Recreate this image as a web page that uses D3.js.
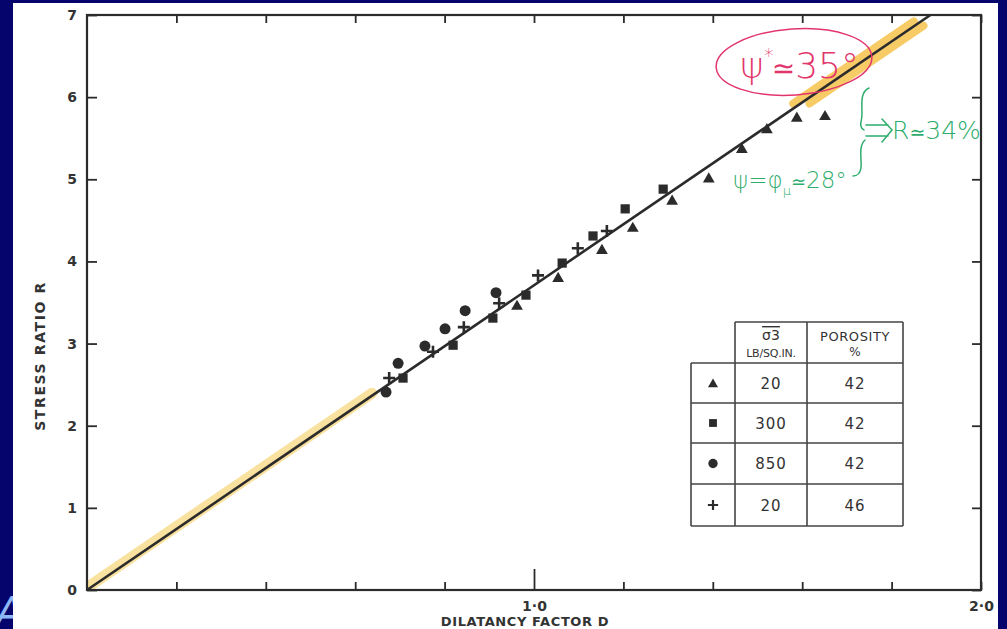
<!DOCTYPE html>
<html>
<head>
<meta charset="utf-8">
<script src="https://cdn.jsdelivr.net/npm/d3@7"></script>
<style>
  body { margin: 0; background: #04046c; overflow: hidden; }
  svg { display: block; }
</style>
</head>
<body>
<svg width="1007" height="629"></svg>
<script>
// ---- data (D = dilatancy factor, R = stress ratio)
const triangleD = [0.962, 1.054, 1.152, 1.221, 1.309, 1.391, 1.465, 1.521, 1.588, 1.651];
const triangleR = [3.47, 3.81, 4.15, 4.42, 4.75, 5.02, 5.38, 5.62, 5.76, 5.78];
const squareD = [0.707, 0.819, 0.908, 0.982, 1.063, 1.132, 1.204, 1.289];
const squareR = [2.58, 2.98, 3.31, 3.59, 3.98, 4.31, 4.64, 4.88];
const circleD = [0.669, 0.696, 0.756, 0.801, 0.846, 0.915];
const circleR = [2.41, 2.76, 2.97, 3.18, 3.40, 3.62];
const plusD = [0.676, 0.774, 0.843, 0.922, 1.009, 1.098, 1.163];
const plusR = [2.58, 2.90, 3.20, 3.49, 3.83, 4.16, 4.37];

const fitSlope = 3.71;          // R = 3.71 D
const xTicks = [0.2, 0.4, 0.6, 0.8, 1, 1.2, 1.4, 1.6, 1.8, 2];
const xLabels = {1: '1·0', 2: '2·0'};
const yTicks = [0, 1, 2, 3, 4, 5, 6, 7];

const legendSymbols = ['triangle', 'square', 'circle', 'plus'];
const legendSigma = ['20', '300', '850', '20'];
const legendPorosity = ['42', '42', '42', '46'];

// highlighted stretches of the line (D from, D to)
const highlightSpans = [[0.012, 0.64], [1.585, 1.855], [1.61, 1.865]];

const svg = d3.select('svg');
const ink = '#2b2b2b';

const x = d3.scaleLinear().domain([0, 2]).range([87, 981]);
const y = d3.scaleLinear().domain([0, 7]).range([590, 15]);

// slide text peeking out from under the scan
svg.append('text')
  .attr('x', -4).attr('y', 626)
  .attr('font-family', 'DejaVu Sans').attr('font-style', 'italic')
  .attr('font-size', 40).attr('fill', '#8db6f5')
  .text('A');

// the paper
svg.append('rect')
  .attr('x', 13).attr('y', 3).attr('width', 985).attr('height', 640)
  .attr('fill', '#ffffff');

// highlighter under the line
const hl = svg.append('g').attr('stroke-linecap', 'round').attr('fill', 'none');
const hlStyle = [
  {offset: -2, color: '#f8dc8e', width: 11, opacity: 0.85},
  {offset: -4, color: '#f6c24a', width: 8, opacity: 0.85},
  {offset: 5, color: '#f6c24a', width: 8, opacity: 0.85}
];
highlightSpans.forEach((s, i) => {
  const st = hlStyle[i];
  const x1 = x(s[0]), y1 = y(s[0] * fitSlope), x2 = x(s[1]), y2 = y(s[1] * fitSlope);
  const len = Math.hypot(x2 - x1, y2 - y1);
  const nx = (y2 - y1) / len, ny = -(x2 - x1) / len;   // perpendicular
  hl.append('line')
    .attr('x1', x1 - nx * st.offset).attr('y1', y1 - ny * st.offset)
    .attr('x2', x2 - nx * st.offset).attr('y2', y2 - ny * st.offset)
    .attr('stroke', st.color).attr('stroke-width', st.width).attr('opacity', st.opacity);
});

// axes
const fontAxis = 'DejaVu Sans';
const bottom = svg.append('g').attr('transform', 'translate(0,590)')
  .call(d3.axisBottom(x).tickValues(xTicks).tickSizeInner(-8).tickSizeOuter(0)
    .tickPadding(11).tickFormat(d => xLabels[d] || ''));
bottom.selectAll('.tick line').filter(d => d === 1).attr('y2', -21);

svg.append('g').attr('transform', 'translate(0,15)')
  .call(d3.axisTop(x).tickValues(xTicks).tickSizeInner(-8).tickSizeOuter(0).tickFormat(''));

svg.append('g').attr('transform', 'translate(87,0)')
  .call(d3.axisLeft(y).tickValues(yTicks).tickSizeInner(-10).tickSizeOuter(0)
    .tickPadding(10).tickFormat(d3.format('d')));

svg.append('g').attr('transform', 'translate(981,0)')
  .call(d3.axisRight(y).tickValues(yTicks).tickSizeInner(-9).tickSizeOuter(0).tickFormat(''));

svg.selectAll('.domain').remove();
svg.selectAll('.tick line').attr('stroke', ink).attr('stroke-width', 1.8);
svg.selectAll('.tick text')
  .attr('font-family', fontAxis).attr('font-weight', 'bold')
  .attr('font-size', 14).attr('fill', '#333');

// frame
svg.append('rect')
  .attr('x', x(0)).attr('y', y(7))
  .attr('width', x(2) - x(0)).attr('height', y(0) - y(7))
  .attr('fill', 'none').attr('stroke', ink).attr('stroke-width', 2.2);

// axis titles
svg.append('text')
  .attr('x', 525).attr('y', 626).attr('text-anchor', 'middle')
  .attr('font-family', fontAxis).attr('font-weight', 'bold').attr('font-size', 13)
  .attr('letter-spacing', 0.6).attr('fill', '#333')
  .text('DILATANCY FACTOR D');

svg.append('text')
  .attr('transform', 'translate(45,356) rotate(-90)').attr('text-anchor', 'middle')
  .attr('font-family', fontAxis).attr('font-weight', 'bold').attr('font-size', 14)
  .attr('letter-spacing', 1.6).attr('fill', '#333')
  .text('STRESS RATIO R');

// fitted line R = slope * D
const fitD = [0, 7 / fitSlope];
svg.append('path')
  .datum(fitD)
  .attr('d', d3.line().x(d => x(d)).y(d => y(d * fitSlope)))
  .attr('fill', 'none').attr('stroke', ink).attr('stroke-width', 2.6);

// markers
function drawMarker(g, kind, cx, cy, scale) {
  if (kind === 'plus') {
    const h = 6 * scale;
    g.append('path')
      .attr('d', `M${cx - h},${cy}H${cx + h}M${cx},${cy - h}V${cy + h}`)
      .attr('stroke', ink).attr('stroke-width', 2.6 * scale).attr('fill', 'none');
    return;
  }
  const type = {triangle: d3.symbolTriangle, square: d3.symbolSquare, circle: d3.symbolCircle}[kind];
  const size = {triangle: 60, square: 85, circle: 95}[kind] * scale * scale;
  const dy = kind === 'triangle' ? 1.5 * scale : 0;
  g.append('path')
    .attr('d', d3.symbol().type(type).size(size)())
    .attr('transform', `translate(${cx},${cy + dy})`)
    .attr('fill', ink);
}

const series = [
  ['triangle', triangleD, triangleR],
  ['square', squareD, squareR],
  ['circle', circleD, circleR],
  ['plus', plusD, plusR]
];
const marks = svg.append('g');
series.forEach(([kind, ds, rs]) => {
  ds.forEach((d, i) => drawMarker(marks, kind, x(d), y(rs[i]), 1));
});

// legend table
const tbl = svg.append('g').attr('font-family', fontAxis).attr('fill', '#333');
const colX = [691, 735, 807, 903];
const rowY = [322, 363, 403, 443, 484, 526];
function tLine(x1, y1, x2, y2) {
  tbl.append('line').attr('x1', x1).attr('y1', y1).attr('x2', x2).attr('y2', y2)
    .attr('stroke', '#444').attr('stroke-width', 1.6);
}
tLine(colX[1], rowY[0], colX[3], rowY[0]);
for (let i = 1; i < rowY.length; i++) tLine(colX[0], rowY[i], colX[3], rowY[i]);
tLine(colX[0], rowY[1], colX[0], rowY[5]);
for (let j = 1; j < colX.length; j++) tLine(colX[j], rowY[0], colX[j], rowY[5]);

const hdr = tbl.append('g').attr('text-anchor', 'middle');
hdr.append('text').attr('x', 771).attr('y', 340).attr('font-size', 14)
  .attr('text-decoration', 'overline').text('σ3');
hdr.append('text').attr('x', 771).attr('y', 357).attr('font-size', 11).attr('letter-spacing', -0.2)
  .text('LB/SQ.IN.');
hdr.append('text').attr('x', 855).attr('y', 341).attr('font-size', 13).attr('letter-spacing', 0.6)
  .text('POROSITY');
hdr.append('text').attr('x', 855).attr('y', 356).attr('font-size', 12).text('%');

legendSymbols.forEach((kind, i) => {
  const cy = (rowY[i + 1] + rowY[i + 2]) / 2;
  drawMarker(tbl, kind, 713, cy, 0.85);
  tbl.append('text').attr('x', 771).attr('y', cy + 5.5).attr('text-anchor', 'middle')
    .attr('font-size', 15).attr('letter-spacing', 1).text(legendSigma[i]);
  tbl.append('text').attr('x', 855).attr('y', cy + 5.5).attr('text-anchor', 'middle')
    .attr('font-size', 15).attr('letter-spacing', 1).text(legendPorosity[i]);
});

// hand-written notes
const red = '#e2356c', green = '#2eac6c';
const noteFont = 'DejaVu Sans';
svg.append('ellipse')
  .attr('cx', 794).attr('cy', 62).attr('rx', 78).attr('ry', 33)
  .attr('transform', 'rotate(-4,794,62)')
  .attr('fill', 'none').attr('stroke', red).attr('stroke-width', 1.5);
const psiStar = svg.append('text')
  .attr('x', 740).attr('y', 78)
  .attr('font-family', noteFont).attr('font-weight', 200)
  .attr('font-size', 36).attr('fill', red);
psiStar.append('tspan').text('ψ');
psiStar.append('tspan').attr('dy', -16).attr('font-size', 20).text('*');
psiStar.append('tspan').attr('dy', 16).attr('dx', -2)
  .attr('font-weight', 'normal').attr('font-size', 28).text('≃');
psiStar.append('tspan').text('35°');

const psiMu = svg.append('text')
  .attr('x', 733).attr('y', 188)
  .attr('font-family', noteFont).attr('font-weight', 200)
  .attr('font-size', 23).attr('fill', green);
psiMu.append('tspan').text('ψ=φ');
psiMu.append('tspan').attr('dy', 7).attr('font-size', 13).text('μ');
psiMu.append('tspan').attr('dy', -7).attr('font-weight', 'normal').attr('font-size', 18).text('≃');
psiMu.append('tspan').text('28°');

const rNote = svg.append('text')
  .attr('x', 892).attr('y', 139)
  .attr('font-family', noteFont).attr('font-weight', 200)
  .attr('font-size', 25).attr('fill', green);
rNote.append('tspan').text('R');
rNote.append('tspan').attr('font-weight', 'normal').attr('font-size', 19).text('≃');
rNote.append('tspan').text('34%');

svg.append('path')
  .attr('d', 'M869,88 C860,92 862,104 862,114 C862,122 858,126 864,130 ' +
             'M865,140 C858,146 862,160 861,168 C860,174 857,176 853,176 ' +
             'M866,125 L888,125 M866,136 L888,136 M882,119 L892,130 L882,142')
  .attr('fill', 'none').attr('stroke', green).attr('stroke-width', 1.5)
  .attr('stroke-linecap', 'round');
</script>
</body>
</html>
